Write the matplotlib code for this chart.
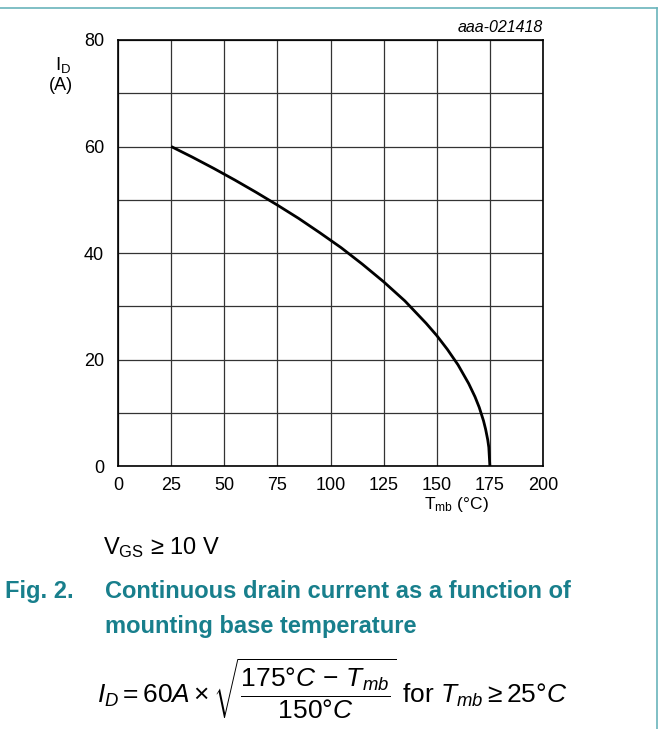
import matplotlib.pyplot as plt
from matplotlib.lines import Line2D

plt.rcParams['font.family'] = ['Liberation Sans', 'DejaVu Sans']
plt.rcParams['mathtext.fontset'] = 'custom'
plt.rcParams['mathtext.rm'] = 'Liberation Sans'
plt.rcParams['mathtext.it'] = 'Liberation Sans:italic'

# values (T_mb in degC, I_D in A)
t_mb = [25, 35, 45, 55, 65, 75, 85, 95, 105, 115, 125, 135, 145, 150, 155,
        160, 165, 168, 170, 172, 173, 174, 174.5, 175]
i_d = [60, 58.0, 55.9, 53.7, 51.4, 49.0, 46.5, 43.8, 41.0, 37.9, 34.6, 31.0,
       26.8, 24.5, 21.9, 19.0, 15.5, 13.0, 11.0, 8.5, 6.9, 4.9, 3.5, 0]

x_ticks = [0, 25, 50, 75, 100, 125, 150, 175, 200]
y_ticks = [0, 20, 40, 60, 80]

teal = '#187f8c'
W, H = 662, 729


def fy(py):
    # pixel row from the top -> figure fraction
    return 1 - py / H


fig = plt.figure(figsize=(W / 100, H / 100), dpi=100)
ax = fig.add_axes([118 / W, fy(466), 425 / W, 426 / H])

ax.plot(t_mb, i_d, color='black', lw=2.0, solid_capstyle='butt', zorder=3)

ax.set_xlim(0, 200)
ax.set_ylim(0, 80)
ax.set_xticks(x_ticks)
ax.set_yticks(y_ticks)
ax.set_xticks(range(0, 201, 25), minor=True)
ax.set_yticks(range(0, 81, 10), minor=True)
ax.grid(True, which='both', color='#333333', lw=0.9)
ax.tick_params(which='both', length=0, labelsize=13)
ax.tick_params(axis='x', pad=8)
ax.tick_params(axis='y', pad=10)
for s in ax.spines.values():
    s.set_linewidth(1.2)

fig.text(543 / W, fy(27), 'aaa-021418', ha='right', va='center',
         fontsize=11.5, style='italic')

fig.text(63 / W, fy(65), r'$\mathregular{I_D}$', ha='center', va='center', fontsize=13.5)
fig.text(61 / W, fy(85), '(A)', ha='center', va='center', fontsize=13)
fig.text(456 / W, fy(504), r'$\mathregular{T_{mb}}$ (°C)', ha='center', va='center',
         fontsize=12.5)

fig.text(103 / W, fy(554), r'$\mathregular{V_{GS}}$ ≥ 10 V', ha='left', va='baseline',
         fontsize=17)

fig.text(5 / W, fy(598), 'Fig. 2.', ha='left', va='baseline', fontsize=17,
         weight='bold', color=teal)
fig.text(105 / W, fy(598), 'Continuous drain current as a function of',
         ha='left', va='baseline', fontsize=17, weight='bold', color=teal)
fig.text(105 / W, fy(633), 'mounting base temperature',
         ha='left', va='baseline', fontsize=17, weight='bold', color=teal)

fig.text(97 / W, fy(703),
         r'$I_D = 60A \times \sqrt{\dfrac{175°C\,-\,T_{mb}}{150°C}}$ for $T_{mb} \geq 25°C$',
         ha='left', va='baseline', fontsize=19)

# page frame
frame = '#6ab4bb'
fig.add_artist(Line2D([0, 657 / W], [fy(8), fy(8)], color=frame, lw=1.2,
                      transform=fig.transFigure))
fig.add_artist(Line2D([657 / W, 657 / W], [0, fy(8)], color=frame, lw=1.2,
                      transform=fig.transFigure))

fig.savefig('out.png', dpi=100)
